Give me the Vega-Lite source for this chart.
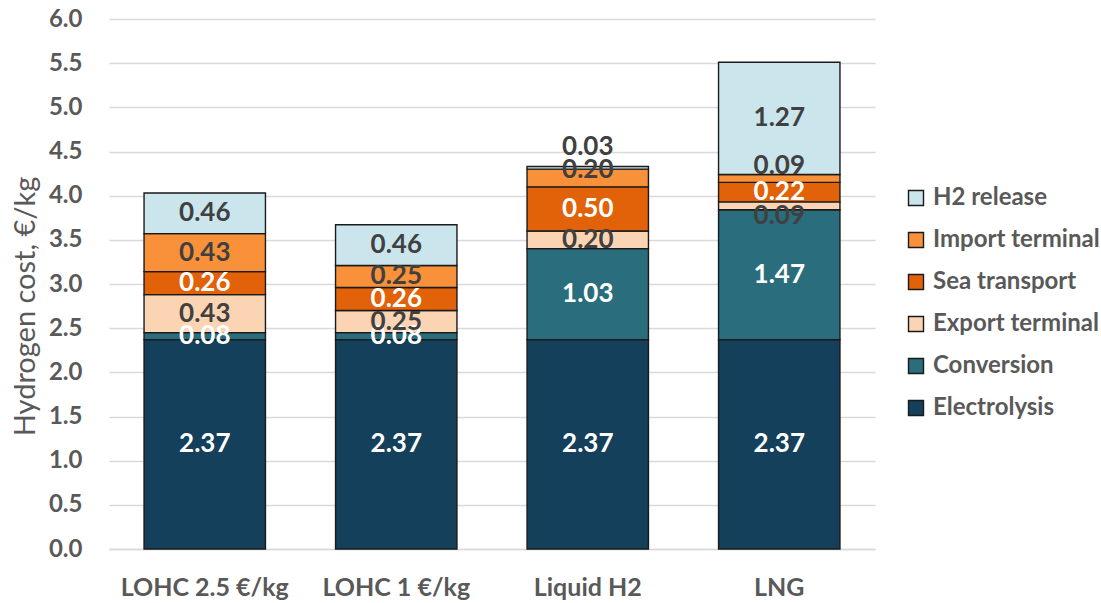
{
  "$schema": "https://vega.github.io/schema/vega-lite/v6.json",
  "width": 766,
  "height": 530,
  "autosize": {"type": "none"},
  "padding": {"left": 109, "top": 19, "right": 226, "bottom": 54},
  "background": "white",
  "config": {
    "font": "Lato",
    "view": {"stroke": null},
    "axisY": {
      "grid": true, "gridColor": "#D9D9D9", "gridWidth": 1.3,
      "domain": false, "ticks": false,
      "labelFontSize": 24, "labelFontWeight": "bold", "labelColor": "#595959", "labelPadding": 27,
      "titleFontSize": 29, "titleFontWeight": "normal", "titleColor": "#595959",
      "titleX": -84, "titleY": 287, "titleAngle": -90, "titleAlign": "center", "titleBaseline": "middle"
    }
  },
  "data": {
    "values": [
      {"route": "LOHC 2.5 €/kg", "segment": "Electrolysis", "cost": 2.37},
      {"route": "LOHC 2.5 €/kg", "segment": "Conversion", "cost": 0.08},
      {"route": "LOHC 2.5 €/kg", "segment": "Export terminal", "cost": 0.43},
      {"route": "LOHC 2.5 €/kg", "segment": "Sea transport", "cost": 0.26},
      {"route": "LOHC 2.5 €/kg", "segment": "Import terminal", "cost": 0.43},
      {"route": "LOHC 2.5 €/kg", "segment": "H2 release", "cost": 0.46},
      {"route": "LOHC 1 €/kg", "segment": "Electrolysis", "cost": 2.37},
      {"route": "LOHC 1 €/kg", "segment": "Conversion", "cost": 0.08},
      {"route": "LOHC 1 €/kg", "segment": "Export terminal", "cost": 0.25},
      {"route": "LOHC 1 €/kg", "segment": "Sea transport", "cost": 0.26},
      {"route": "LOHC 1 €/kg", "segment": "Import terminal", "cost": 0.25},
      {"route": "LOHC 1 €/kg", "segment": "H2 release", "cost": 0.46},
      {"route": "Liquid H2", "segment": "Electrolysis", "cost": 2.37},
      {"route": "Liquid H2", "segment": "Conversion", "cost": 1.03},
      {"route": "Liquid H2", "segment": "Export terminal", "cost": 0.20},
      {"route": "Liquid H2", "segment": "Sea transport", "cost": 0.50},
      {"route": "Liquid H2", "segment": "Import terminal", "cost": 0.20},
      {"route": "Liquid H2", "segment": "H2 release", "cost": 0.03},
      {"route": "LNG", "segment": "Electrolysis", "cost": 2.37},
      {"route": "LNG", "segment": "Conversion", "cost": 1.47},
      {"route": "LNG", "segment": "Export terminal", "cost": 0.09},
      {"route": "LNG", "segment": "Sea transport", "cost": 0.22},
      {"route": "LNG", "segment": "Import terminal", "cost": 0.09},
      {"route": "LNG", "segment": "H2 release", "cost": 1.27}
    ]
  },
  "transform": [
    {"calculate": "indexof(['Electrolysis','Conversion','Export terminal','Sea transport','Import terminal','H2 release'], datum.segment)", "as": "ord"},
    {"stack": "cost", "groupby": ["route"], "sort": [{"field": "ord", "order": "ascending"}], "as": ["y0", "y1"]},
    {"calculate": "(datum.y0 + datum.y1) / 2", "as": "ymid"}
  ],
  "encoding": {
    "x": {
      "field": "route", "type": "nominal",
      "sort": ["LOHC 2.5 €/kg", "LOHC 1 €/kg", "Liquid H2", "LNG"],
      "scale": {"paddingInner": 0.366, "paddingOuter": 0.183},
      "axis": {
        "title": null, "labelAngle": 0, "ticks": false,
        "domain": true, "domainColor": "#D9D9D9", "domainWidth": 1.3,
        "labelFontSize": 25, "labelFontWeight": "bold", "labelColor": "#595959", "labelPadding": 26
      }
    }
  },
  "layer": [
    {
      "mark": {"type": "bar", "stroke": "#1a1a1a", "strokeWidth": 1.4},
      "encoding": {
        "y": {
          "field": "y0", "type": "quantitative",
          "scale": {"domain": [0, 6], "nice": false},
          "axis": {"values": [0, 0.5, 1, 1.5, 2, 2.5, 3, 3.5, 4, 4.5, 5, 5.5, 6], "format": ".1f"},
          "title": "Hydrogen cost, €/kg"
        },
        "y2": {"field": "y1"},
        "color": {
          "field": "segment", "type": "nominal",
          "scale": {
            "domain": ["H2 release", "Import terminal", "Sea transport", "Export terminal", "Conversion", "Electrolysis"],
            "range": ["#CBE5ED", "#F8913A", "#E16208", "#FBD4B4", "#2A6D7D", "#15405B"]
          },
          "legend": {
            "orient": "none", "legendX": 795, "legendY": 167, "title": null,
            "symbolType": "square", "symbolSize": 225,
            "symbolStrokeColor": "#1a1a1a", "symbolStrokeWidth": 1.4,
            "labelFontSize": 24, "labelFontWeight": "bold", "labelColor": "#595959",
            "rowPadding": 18, "labelOffset": 5, "labelLimit": 300
          }
        }
      }
    },
    {
      "transform": [{"filter": "!((datum.route == 'Liquid H2' && (datum.segment == 'H2 release' || datum.segment == 'Import terminal')) || (datum.route == 'LNG' && (datum.segment == 'Import terminal' || datum.segment == 'Export terminal')))"}],
      "mark": {"type": "text", "fontWeight": "bold", "fontSize": 26},
      "encoding": {
        "y": {"field": "ymid", "type": "quantitative", "title": "Hydrogen cost, €/kg"},
        "text": {"field": "cost", "type": "quantitative", "format": ".2f"},
        "color": {"condition": {"test": "datum.segment == 'Electrolysis' || datum.segment == 'Conversion' || datum.segment == 'Sea transport'", "value": "white"}, "value": "#404040"}
      }
    },
    {
      "transform": [{"filter": "datum.route == 'Liquid H2' && datum.segment == 'H2 release'"}],
      "mark": {"type": "text", "fontWeight": "bold", "fontSize": 26, "dy": -21, "color": "#404040"},
      "encoding": {
        "y": {"field": "ymid", "type": "quantitative", "title": "Hydrogen cost, €/kg"},
        "text": {"field": "cost", "type": "quantitative", "format": ".2f"}
      }
    },
    {
      "transform": [{"filter": "datum.route == 'Liquid H2' && datum.segment == 'Import terminal'"}],
      "mark": {"type": "text", "fontWeight": "bold", "fontSize": 26, "dy": -8, "color": "#404040"},
      "encoding": {
        "y": {"field": "ymid", "type": "quantitative", "title": "Hydrogen cost, €/kg"},
        "text": {"field": "cost", "type": "quantitative", "format": ".2f"}
      }
    },
    {
      "transform": [{"filter": "datum.route == 'LNG' && datum.segment == 'Import terminal'"}],
      "mark": {"type": "text", "fontWeight": "bold", "fontSize": 26, "dy": -12, "color": "#404040"},
      "encoding": {
        "y": {"field": "ymid", "type": "quantitative", "title": "Hydrogen cost, €/kg"},
        "text": {"field": "cost", "type": "quantitative", "format": ".2f"}
      }
    },
    {
      "transform": [{"filter": "datum.route == 'LNG' && datum.segment == 'Export terminal'"}],
      "mark": {"type": "text", "fontWeight": "bold", "fontSize": 26, "dy": 10, "color": "#404040"},
      "encoding": {
        "y": {"field": "ymid", "type": "quantitative", "title": "Hydrogen cost, €/kg"},
        "text": {"field": "cost", "type": "quantitative", "format": ".2f"}
      }
    }
  ]
}
